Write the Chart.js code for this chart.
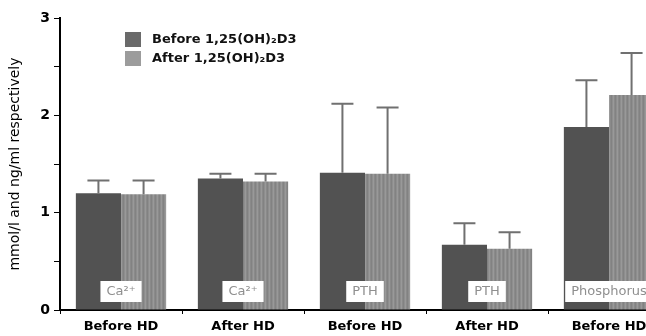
<!DOCTYPE html>
<html>
<head>
<meta charset="utf-8">
<script src="https://cdn.jsdelivr.net/npm/chart.js@4.4.1/dist/chart.umd.min.js"></script>
<style>
  html, body { margin:0; padding:0; background:#fff; overflow:hidden; }
  #wrap { width:672px; height:336px; }
</style>
</head>
<body>
<div id="wrap"><canvas id="hdChart" width="672" height="336"></canvas></div>
<script>
// data
var categories = ['Before HD', 'After HD', 'Before HD', 'After HD', 'Before HD'];
var groupNames = ['Ca\u00B2\u207A', 'Ca\u00B2\u207A', 'PTH', 'PTH', 'Phosphorus'];
var seriesNames = ['Before 1,25(OH)\u2082D3', 'After 1,25(OH)\u2082D3'];
var beforeValues = [1.20, 1.35, 1.41, 0.67, 1.88];
var beforeErrors = [0.13, 0.05, 0.71, 0.22, 0.48];
var afterValues = [1.19, 1.32, 1.40, 0.63, 2.21];
var afterErrors = [0.14, 0.08, 0.68, 0.17, 0.43];
var yTickValues = [0, 1, 2, 3];

var darkGray = '#525252';

// light bars have a fine vertical screen
function stripes() {
    var c = document.createElement('canvas');
    c.width = 4; c.height = 4;
    var g = c.getContext('2d');
    var cols = ['#8e8e8e', '#999999', '#8a8a8a', '#828282'];
    cols.forEach(function(col, i) { g.fillStyle = col; g.fillRect(i, 0, 1, 4); });
    return g.createPattern(c, 'repeat');
}
var lightGray = stripes();
var errors = [beforeErrors, afterErrors];

// error bars on top of each bar
var errorBars = {
    id: 'errorBars',
    afterDatasetsDraw: function(chart) {
        var ctx = chart.ctx, y = chart.scales.y;
        ctx.save();
        ctx.strokeStyle = '#707070';
        ctx.lineWidth = 2;
        chart.data.datasets.forEach(function(ds, i) {
            chart.getDatasetMeta(i).data.forEach(function(bar, j) {
                var top = y.getPixelForValue(ds.data[j] + errors[i][j]);
                ctx.beginPath();
                ctx.moveTo(bar.x, bar.y);
                ctx.lineTo(bar.x, top);
                ctx.moveTo(bar.x - 11, top);
                ctx.lineTo(bar.x + 11, top);
                ctx.stroke();
            });
        });
        ctx.restore();
    }
};

// white name boxes at the foot of each group
var groupBoxes = {
    id: 'groupBoxes',
    afterDatasetsDraw: function(chart) {
        var ctx = chart.ctx, x = chart.scales.x, area = chart.chartArea;
        ctx.save();
        ctx.font = '13px "DejaVu Sans"';
        ctx.textAlign = 'center';
        ctx.textBaseline = 'middle';
        groupNames.forEach(function(name, i) {
            var cx = x.getPixelForValue(i);
            var w = ctx.measureText(name).width + 12;
            var cy = area.bottom - 19;
            ctx.fillStyle = '#ffffff';
            ctx.fillRect(cx - w / 2, cy - 10, w, 21);
            ctx.fillStyle = '#8f8f8f';
            ctx.fillText(name, cx, cy + 1);
        });
        ctx.restore();
    }
};

// legend in the upper left of the plot
var boxLegend = {
    id: 'boxLegend',
    afterDraw: function(chart) {
        var ctx = chart.ctx;
        ctx.save();
        ctx.font = 'bold 13px "DejaVu Sans"';
        ctx.textBaseline = 'middle';
        chart.data.datasets.forEach(function(ds, i) {
            var top = 32 + i * 19;
            ctx.fillStyle = i === 0 ? '#6a6a6a' : '#9c9c9c';
            ctx.fillRect(125, top, 16, 15);
            ctx.fillStyle = '#111';
            ctx.fillText(ds.label, 152, top + 8);
        });
        ctx.restore();
    }
};

var ctx = document.getElementById('hdChart').getContext('2d');
var chart = new Chart(ctx, {
    type: 'bar',
    data: {
        labels: categories,
        datasets: [
            { label: seriesNames[0], data: beforeValues, backgroundColor: darkGray, borderWidth: 0 },
            { label: seriesNames[1], data: afterValues, backgroundColor: lightGray, borderWidth: 0 }
        ]
    },
    options: {
        responsive: false,
        animation: false,
        layout: { padding: { top: 18, right: 2, left: 0, bottom: 0 } },
        datasets: { bar: { categoryPercentage: 0.74, barPercentage: 1.0 } },
        plugins: { legend: { display: false }, tooltip: { enabled: false } },
        scales: {
            x: {
                grid: { drawOnChartArea: false, tickLength: 4, color: '#000', offset: true },
                border: { color: '#000', width: 2 },
                ticks: { color: '#000', padding: 5, font: { family: 'DejaVu Sans', weight: 'bold', size: 13 } },
                afterFit: function(s) { s.height = 26; }
            },
            y: {
                min: 0, max: 3,
                grid: { drawOnChartArea: false, tickLength: 6, color: '#000' },
                border: { color: '#000', width: 2 },
                ticks: {
                    stepSize: 0.5, color: '#000', padding: 4,
                    font: { family: 'DejaVu Sans', weight: 'bold', size: 14 },
                    callback: function(v) { return yTickValues.indexOf(v) >= 0 ? v : ''; }
                },
                title: {
                    display: true, text: 'mmol/l and ng/ml respectively', color: '#000',
                    padding: { top: 7, bottom: 0 },
                    font: { family: 'DejaVu Sans', size: 14 }
                },
                afterFit: function(s) { s.width = 60; }
            }
        }
    },
    plugins: [errorBars, groupBoxes, boxLegend]
});
</script>
</body>
</html>
